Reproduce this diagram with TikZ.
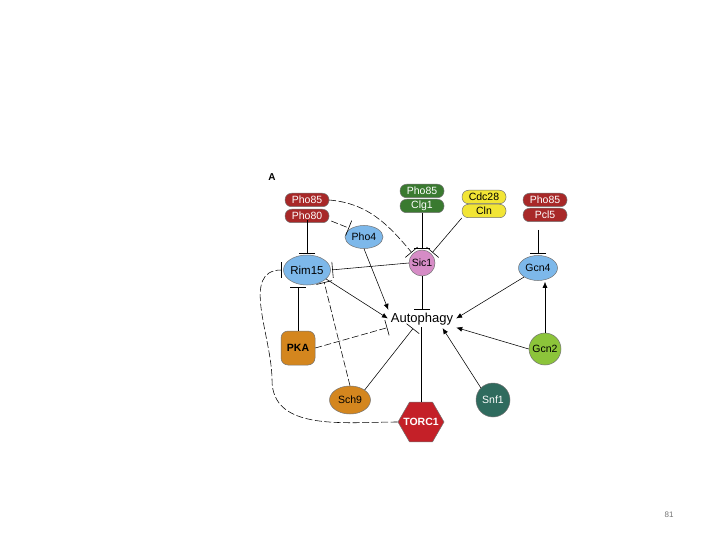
\documentclass[tikz,border=0pt]{standalone}
\usepackage{fontspec}
\setmainfont{Liberation Sans}
\usetikzlibrary{arrows.meta,shapes.geometric}
\definecolor{pred}{HTML}{A82828}
\definecolor{pgreen}{HTML}{3A7A30}
\definecolor{pyellow}{HTML}{F2E535}
\definecolor{pblue}{HTML}{7DB8EA}
\definecolor{ppink}{HTML}{D68CC6}
\definecolor{porange}{HTML}{D4861E}
\definecolor{plime}{HTML}{8CC43A}
\definecolor{pteal}{HTML}{2F6B5E}
\definecolor{phex}{HTML}{C42028}
\tikzset{
  pill/.style={draw=black!55, line width=0.5pt, rounded corners=6.5pt, minimum width=44pt, minimum height=13.5pt, inner sep=0pt, font=\fontsize{10.5}{11}\selectfont, text=white},
  prot/.style={draw=black!55, line width=0.5pt, inner sep=0pt, font=\fontsize{10.5}{11}\selectfont},
  inh/.style={line width=0.55pt, -{Bar[width=16pt,line width=0.6pt]}, shorten >=1.5pt},
  act/.style={line width=0.55pt, -{Latex[length=6pt,width=5pt]}, shorten >=1pt},
  plain/.style={line width=0.55pt},
  dsh/.style={dash pattern=on 7pt off 2.5pt}
}
\begin{document}
\begin{tikzpicture}[x=1pt,y=-1pt]
\useasboundingbox (0,0) rectangle (720,540);
\node[font=\bfseries\fontsize{10}{11}\selectfont] (lblA) at (272,177) {A};
% stacked complexes
\node[pill,fill=pred] (p85a) at (307,200) {Pho85};
\node[pill,fill=pred] (p80) at (307,216) {Pho80};
\node[pill,fill=pgreen] (p85b) at (422,191) {Pho85};
\node[pill,fill=pgreen] (clg) at (422,206) {Clg1};
\node[pill,fill=pyellow,text=black] (cdc) at (484,197) {Cdc28};
\node[pill,fill=pyellow,text=black] (cln) at (484,211) {Cln};
\node[pill,fill=pred] (p85c) at (545,200) {Pho85};
\node[pill,fill=pred] (pcl) at (545,215) {Pcl5};
% proteins
\node[prot,ellipse,fill=pblue,minimum width=38pt,minimum height=23pt] (pho4) at (364,237) {Pho4};
\node[prot,circle,fill=ppink,minimum size=26pt] (sic1) at (422,263) {Sic1};
\node[prot,ellipse,fill=pblue,minimum width=45pt,minimum height=30pt,font=\fontsize{11.5}{12}\selectfont] (rim15) at (307,270) {Rim15};
\node[prot,ellipse,fill=pblue,minimum width=39pt,minimum height=25pt] (gcn4) at (538,268) {Gcn4};
\node[font=\fontsize{13}{14}\selectfont, inner sep=2pt] (auto) at (422,319) {Autophagy};
\node[prot,rectangle,rounded corners=7pt,fill=porange,minimum size=34pt] (pka) at (298,348) {\bfseries PKA};
\node[prot,circle,fill=plime,minimum size=32pt] (gcn2) at (545,349) {Gcn2};
\node[prot,ellipse,fill=porange,minimum width=41pt,minimum height=28pt] (sch9) at (350,400) {Sch9};
\node[prot,circle,fill=pteal,minimum size=34pt,text=white] (snf1) at (493,400) {Snf1};
\node[prot,regular polygon,regular polygon sides=6,fill=phex,minimum size=46pt,text=white] (torc) at (421,422) {\makebox[0pt]{\bfseries TORC1}};
% connectors
\draw[inh] ([yshift=3pt]p80.south) -- (rim15.north);
\draw[inh,dsh] (p80.east) ++(2,5) coordinate (p80e) -- (pho4.north west);
\draw[inh,dsh] (p85a.east) to[out=-5,in=130] (sic1.north west);
\draw[inh] (clg.south) -- (sic1.north);
\draw[inh] (cln.south west) -- (sic1.north east);
\draw[inh] (pcl.south) ++(-7,8) coordinate (pcls) -- (gcn4.north);
\draw[inh] (sic1.west) -- (rim15.east);
\draw[inh] (sic1.south) -- (auto.north);
\draw[act] (pho4.south) -- (auto.north west);
\draw[act] (rim15.south east) ++(2,-2) coordinate (rse) -- (auto.west);
\draw[inh,dsh] (torc.west) to[out=180,in=-90] (272,380) to[out=90,in=180] (rim15.west);
\draw[inh] (pka.north) -- (rim15.south -| pka.north);
\draw[inh,dsh] (sch9.north) -- (rim15.south east);
\draw[inh,dsh] (pka.east) -- (auto.south west);
\draw[inh] (sch9.north east) -- ([xshift=-8pt]auto.south);
\draw[plain] (torc.north) -- (auto.south -| torc.north);
\draw[act] (snf1.north west) -- ([xshift=20pt]auto.south);
\draw[act] (gcn2.west) -- (auto.south east);
\draw[act] (gcn2.north) -- (gcn4.south -| gcn2.north);
\draw[act] (gcn4.south west) -- (auto.east);
% page number
\node[text=black!55, font=\fontsize{8}{9}\selectfont] (pg) at (669,515) {81};
\end{tikzpicture}
\end{document}
